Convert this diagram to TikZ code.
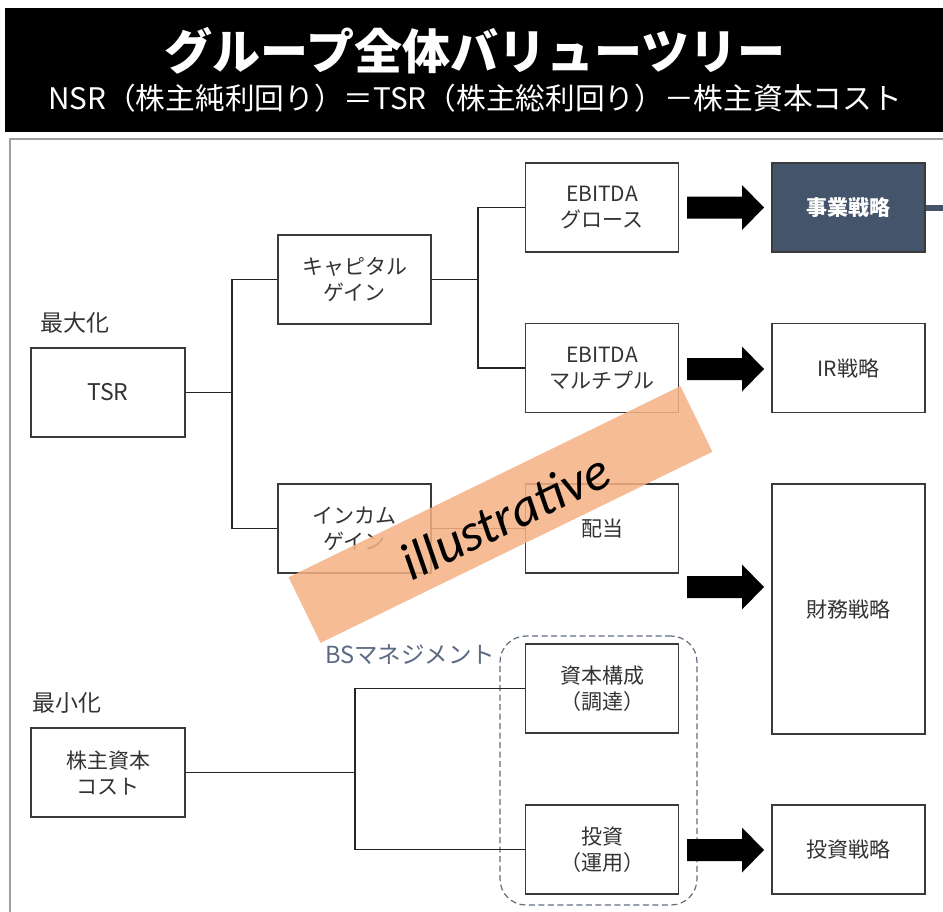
\documentclass[tikz,border=0pt]{standalone}
\usepackage{fontspec}
\setmainfont{Noto Sans CJK JP}
\newfontfamily\illfont{Carlito}
\usetikzlibrary{calc}
\definecolor{slate}{HTML}{44546A}
\definecolor{slatetxt}{HTML}{5B6A82}
\definecolor{bannerc}{HTML}{F4B183}
\definecolor{boxline}{HTML}{3A3A3A}
\definecolor{boxtext}{HTML}{333333}
\tikzset{
  treebox/.style={draw=boxline, line width=1.3pt, minimum width=153pt, minimum height=89pt,
    align=center, text=boxtext, font=\fontsize{21}{26}\selectfont, inner sep=0pt},
  conn/.style={draw=black!85, line width=1.3pt},
  lbl/.style={text=boxtext, font=\fontsize{23}{26}\selectfont, inner sep=0pt},
}
\newcommand\blkarrow[1]{\fill[black, shift={#1}] (-38.5,-11) -- (16.5,-11) -- (16.5,-22.5) -- (38.5,0) -- (16.5,22.5) -- (16.5,11) -- (-38.5,11) -- cycle;}
\begin{document}
\begin{tikzpicture}[x=1pt, y=-1pt]
\useasboundingbox (0,0) rectangle (943,911);
\fill[white] (0,0) rectangle (943,911);
% title bar
\fill[black] (5,8) rectangle (943,132);
\node[text=white, font=\fontsize{48}{50}\selectfont\bfseries, inner sep=0pt] (title) at (475,51) {グループ全体バリューツリー};
\node[text=white, font=\fontsize{29.7}{32}\selectfont, inner sep=0pt] (subtitle) at (475,98) {NSR（株主純利回り）＝TSR（株主総利回り）－株主資本コスト};
% frame
\draw[gray!75, line width=1.5pt] (10,915) -- (10,139) -- (945,139);

% labels
\node[lbl, anchor=west] (maxl) at (40,323) {最大化};
\node[lbl, anchor=west] (minl) at (32,703) {最小化};
\node[text=slatetxt, font=\fontsize{23.5}{26}\selectfont, inner sep=0pt, anchor=west] (bsl) at (325,655) {BSマネジメント};

% boxes
\node[treebox, minimum width=154pt] (tsr) at (108,392.5) {\fontsize{23}{26}\selectfont TSR};
\node[treebox, minimum width=154pt] (cost) at (108,772.5) {株主資本\\コスト};
\node[treebox] (cap) at (354.5,279.5) {キャピタル\\ゲイン};
\node[treebox] (inc) at (354.5,528.5) {インカム\\ゲイン};
\node[treebox] (ebg) at (602,207.5) {EBITDA\\グロース};
\node[treebox] (ebm) at (602,368) {EBITDA\\マルチプル};
\node[treebox] (div) at (602,528.5) {配当};
\node[treebox] (cst) at (602,688.5) {資本構成\\（調達）};
\node[treebox] (inv) at (602,849.5) {投資\\（運用）};
\node[treebox, fill=slate, text=white, font=\fontsize{21}{26}\selectfont\bfseries] (biz) at (848.5,207.5) {事業戦略};
\node[treebox] (ir) at (848.5,368) {IR戦略};
\node[treebox, minimum height=250pt] (fin) at (848.5,609) {財務戦略};
\node[treebox] (ivs) at (848.5,849.5) {投資戦略};

% dashed group
\node[draw=slate!85, dashed, dash pattern=on 6pt off 3.5pt, line width=1.2pt, rounded corners=26pt,
  minimum width=197pt, minimum height=269pt, inner sep=0pt] (bsbox) at (598.5,770.5) {};

% connectors
\coordinate (j1) at (232,392.5);
\coordinate (j2) at (478,279.5);
\coordinate (j3) at (355,772.5);
\draw[conn] (tsr.east) -- (j1) |- (cap.west);
\draw[conn] (j1) |- (inc.west);
\draw[conn] (cap.east) -- (j2) |- (ebg.west);
\draw[conn] (j2) |- (ebm.west);
\draw[conn] (inc.east) -- (div.west);
\draw[conn] (cost.east) -- (j3) |- (cst.west);
\draw[conn] (j3) |- (inv.west);
\coordinate (bizout) at (945,207.5);
\draw[slate, line width=6pt] (biz.east) -- (bizout);

% block arrows
\blkarrow{(725.5,207.5)}
\blkarrow{(725.5,369)}
\blkarrow{(725.5,587)}
\blkarrow{(725.5,850)}

% banner
\node[fill=bannerc, fill opacity=0.85, minimum width=436pt, minimum height=73pt, rotate=26, inner sep=0pt] (banner) at (500.5,514.5) {};
\node[rotate=26, font=\illfont\itshape\fontsize{53}{55}\selectfont, inner sep=0pt] (illus) at (505,516) {illustrative};
\end{tikzpicture}
\end{document}
